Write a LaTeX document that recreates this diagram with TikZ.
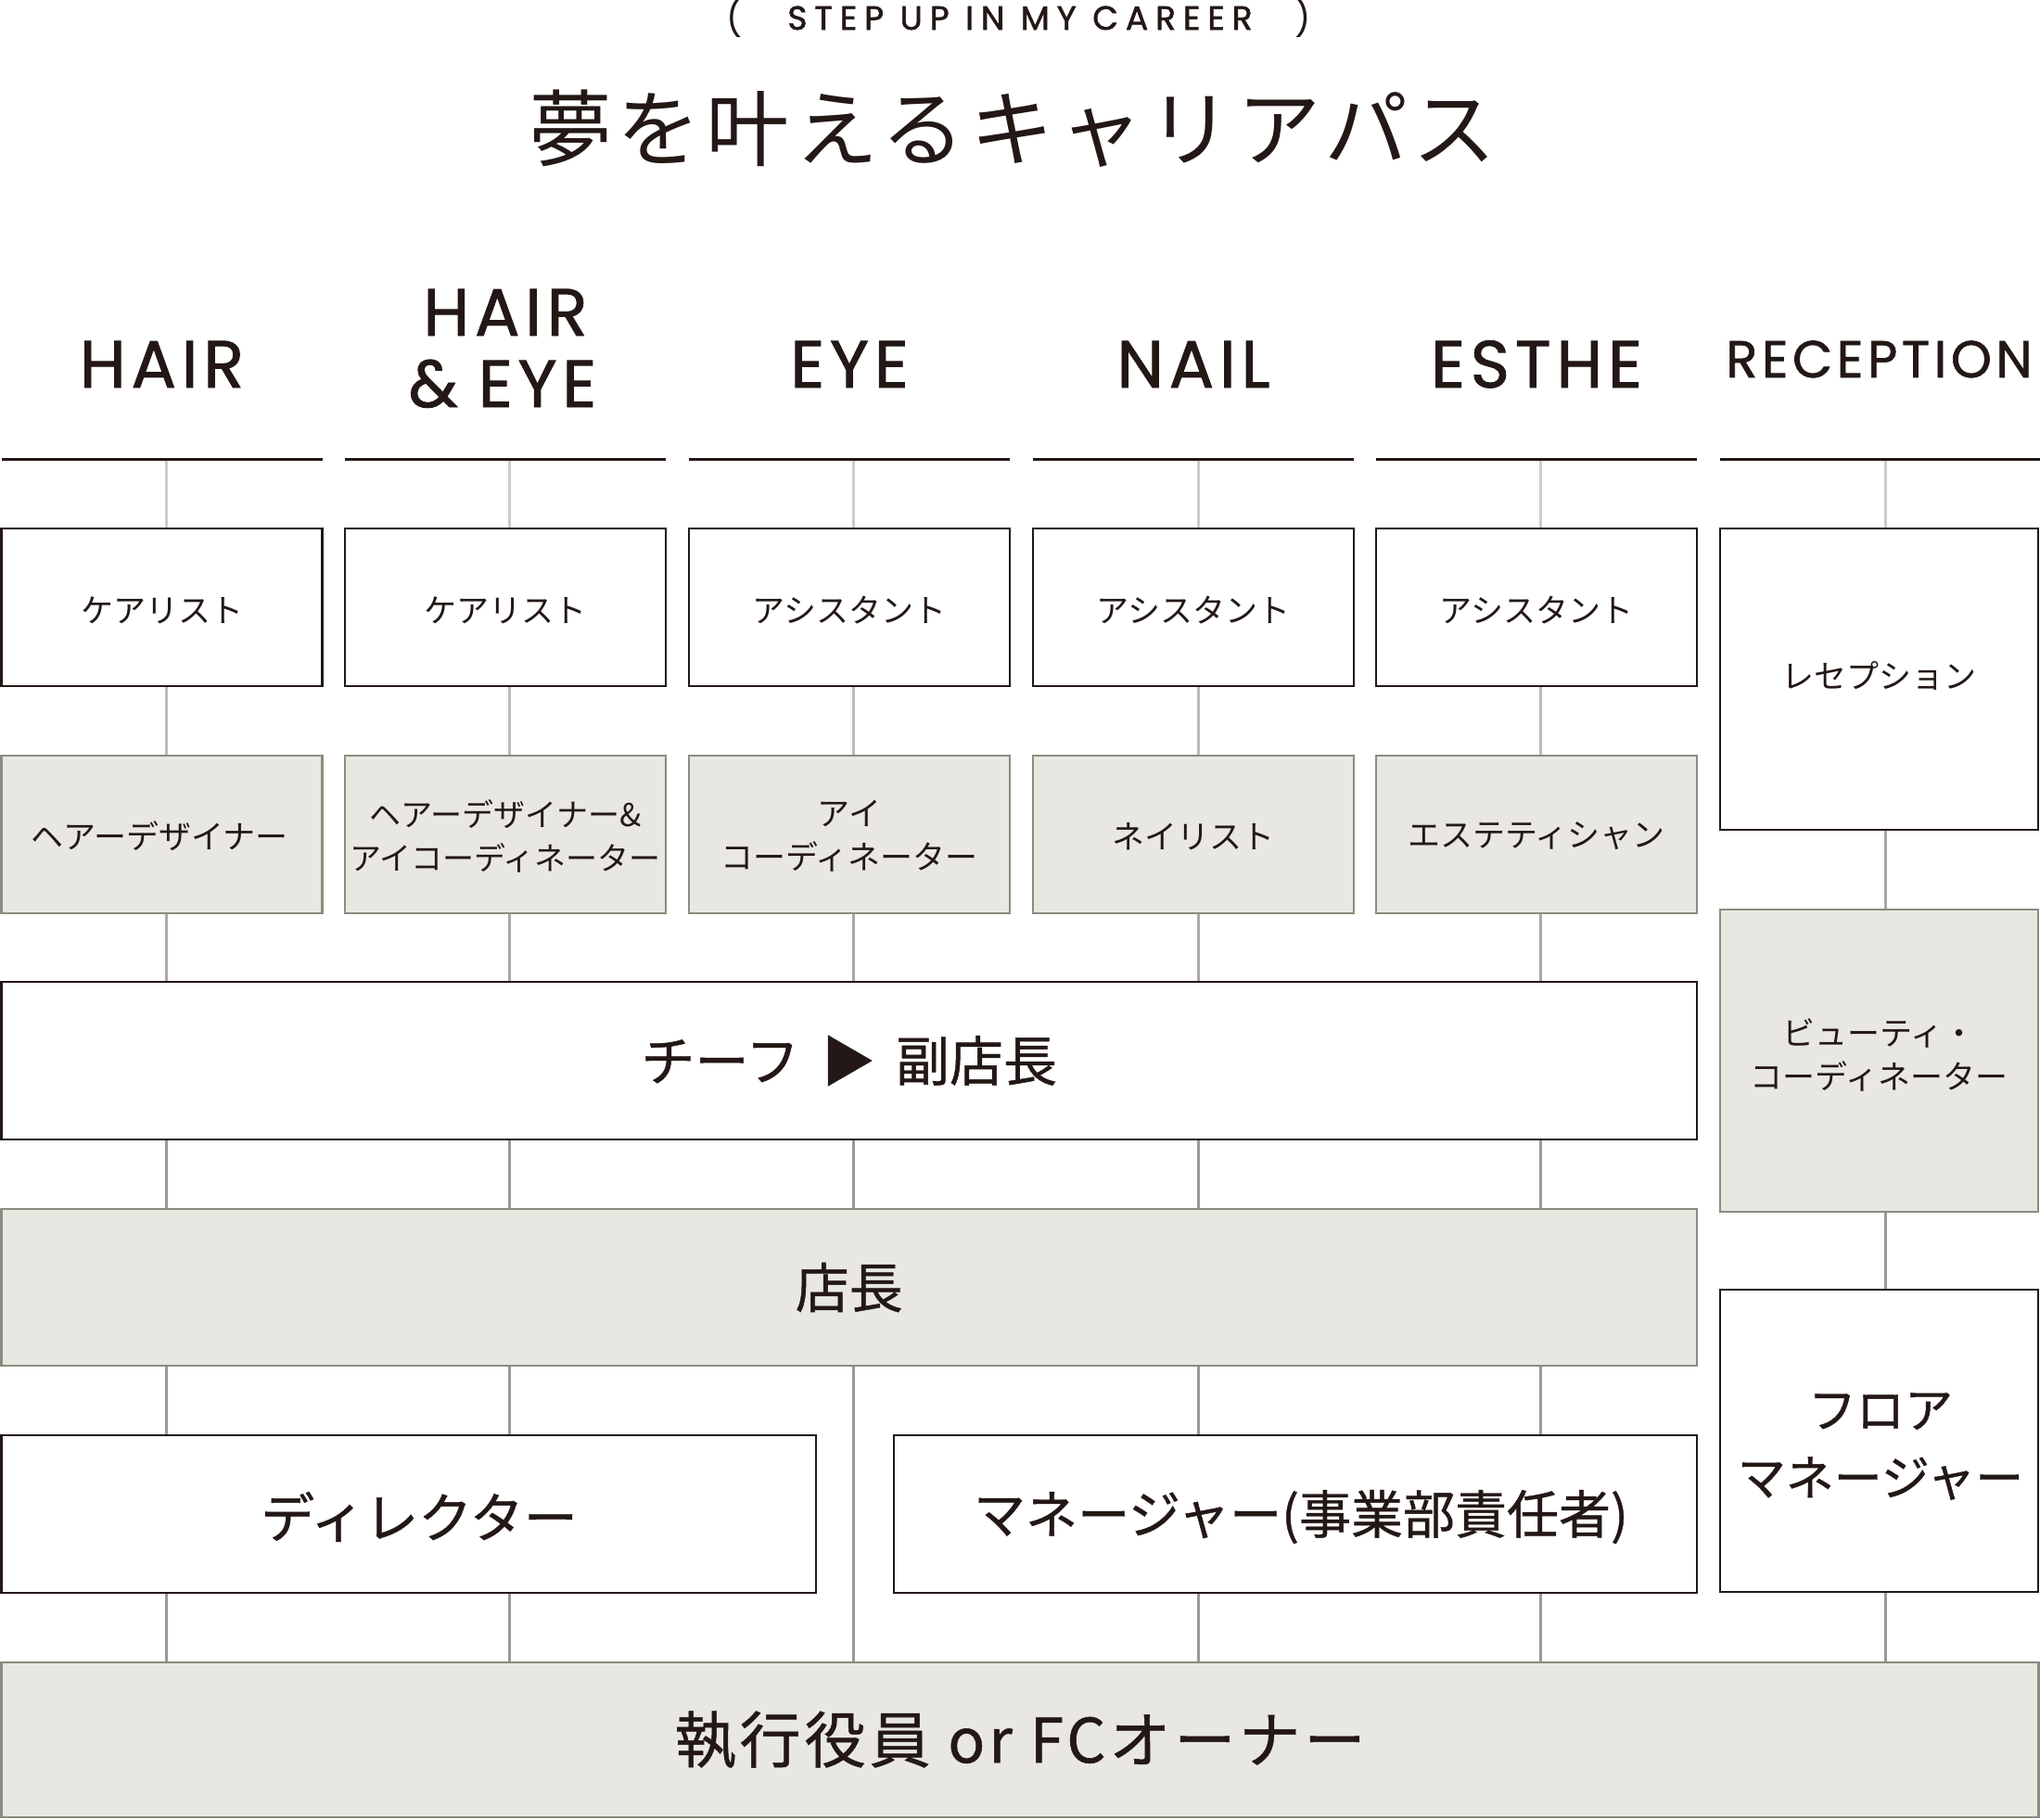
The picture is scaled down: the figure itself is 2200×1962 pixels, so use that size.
\documentclass[tikz,border=0pt]{standalone}
\usepackage{fontspec}
\setmainfont{Noto Sans CJK JP}
\newfontfamily\jp{Noto Sans CJK JP}
\newfontfamily\jpbig[FakeBold=0.8]{Noto Sans CJK JP}
\newfontfamily\jptitle[LetterSpace=6.5]{Noto Sans CJK JP}
\newfontfamily\jpwide[LetterSpace=6,FakeBold=0.8]{Noto Sans CJK JP}
\newfontfamily\hdfont[LetterSpace=8,FakeBold=1.2]{Poppins}
\newfontfamily\stepfont[LetterSpace=22,FakeBold=1.6]{Poppins}
\newfontfamily\parenfont{Poppins}
\definecolor{ink}{HTML}{231815}
\definecolor{boxfill}{HTML}{E8E7E2}
\definecolor{boxline}{HTML}{8C8C7E}
\definecolor{segA}{HTML}{CDCDC6}
\definecolor{segB}{HTML}{BDBDB6}
\definecolor{segC}{HTML}{A9A9A6}
\definecolor{segD}{HTML}{999999}
\tikzset{
 box/.style={inner sep=0, align=center, text=ink, font=\jp\fontsize{35}{47}\selectfont},
 wbox/.style={box, draw=ink, fill=white, line width=2.6},
 gbox/.style={box, draw=boxline, fill=boxfill, line width=2.6},
 big/.style={font=\jpbig\fontsize{58}{73}\selectfont},
 hdr/.style={font=\hdfont\fontsize{72}{80}\selectfont, text=ink, anchor=base, inner sep=0},
 hline/.style={draw=ink, line width=3},
 conn/.style={line width=3},
 txt/.style={inner sep=0, text=ink, align=center},
}
\begin{document}
\begin{tikzpicture}[x=1pt,y=-1pt]
\useasboundingbox (0,0) rectangle (2200,1962);
% titles
\node[txt, anchor=base, font=\stepfont\fontsize{36}{40}\selectfont] (step) at (1100,32) {STEP UP IN MY CAREER};
\node[txt, anchor=base, font=\parenfont\fontsize{38}{40}\selectfont] (pl) at (792,33) {(};
\node[txt, anchor=base, font=\parenfont\fontsize{38}{40}\selectfont] (pr) at (1405,33) {)};
\node[txt, font=\jptitle\fontsize{90}{100}\selectfont] (title) at (1092,139) {夢を叶えるキャリアパス};
% headers
\node[hdr] (hA) at (174.5,418) {HAIR};
\node[hdr] (hB1) at (545,362) {HAIR};
\node[hdr] (hB2) at (542,439) {\&\hspace{22pt}EYE};
\node[hdr] (hC) at (916,418) {EYE};
\node[hdr] (hD) at (1287,418) {NAIL};
\node[hdr] (hE) at (1657,418) {ESTHE};
\node[hdr, font=\hdfont\fontsize{56}{60}\selectfont] (hF) at (2026.5,407) {RECEPTION};
\draw[hline] (1.5,495) -- (347.5,495);
\draw[hline] (372,495) -- (718,495);
\draw[hline] (743,495) -- (1089,495);
\draw[hline] (1114,495) -- (1460,495);
\draw[hline] (1484,495) -- (1830,495);
\draw[hline] (1855,495) -- (2200,495);
\coordinate (v1) at (179,496.5);
\coordinate (v2) at (549,496.5);
\coordinate (v3) at (920,496.5);
\coordinate (v4) at (1292,496.5);
\coordinate (v5) at (1661,496.5);
\coordinate (v6) at (2033,496.5);
% row 1
\node[wbox, minimum width=346, minimum height=170] (r1a) at (174.5,655) {};
\node[wbox, minimum width=346, minimum height=170] (r1b) at (545,655) {};
\node[wbox, minimum width=346, minimum height=170] (r1c) at (916,655) {};
\node[wbox, minimum width=346, minimum height=170] (r1d) at (1287,655) {};
\node[wbox, minimum width=346, minimum height=170] (r1e) at (1657,655) {};
\node[wbox, minimum width=343, minimum height=325] (r1f) at (2026.5,732.5) {};
\node[box] (t1a) at (174.5,658) {ケアリスト};
\node[box] (t1b) at (545,658) {ケアリスト};
\node[box] (t1c) at (916,658) {アシスタント};
\node[box] (t1d) at (1287,658) {アシスタント};
\node[box] (t1e) at (1657,658) {アシスタント};
\node[box] (t1f) at (2026.5,729) {レセプション};
% row 2
\node[gbox, minimum width=346, minimum height=170] (r2a) at (174.5,900) {};
\node[gbox, minimum width=346, minimum height=170] (r2b) at (545,900) {};
\node[gbox, minimum width=346, minimum height=170] (r2c) at (916,900) {};
\node[gbox, minimum width=346, minimum height=170] (r2d) at (1287,900) {};
\node[gbox, minimum width=346, minimum height=170] (r2e) at (1657,900) {};
\node[gbox, minimum width=343, minimum height=326] (r2f) at (2026.5,1144) {};
\node[box] (t2a) at (172,902) {ヘアーデザイナー};
\node[box, font=\jp\fontsize{34}{47}\selectfont] (t2b) at (545,902) {ヘアーデザイナー\&\\アイコーディネーター};
\node[box] (t2c) at (916,902) {アイ\\コーディネーター};
\node[box] (t2d) at (1287,902) {ネイリスト};
\node[box] (t2e) at (1657,902) {エステティシャン};
\node[box] (t2f) at (2026.5,1138) {ビューティ・\\コーディネーター};
% wide rows
\node[wbox, minimum width=1828.5, minimum height=170] (chief) at (915.75,1144) {};
\node[box, big] (tchief) at (915.75,1144) {チーフ\hspace{24pt}▶\hspace{22pt}副店長};
\node[gbox, big, minimum width=1828.5, minimum height=169] (tencho) at (915.75,1388.5) {店長};
\node[wbox, minimum width=343, minimum height=326] (floor) at (2026.5,1554) {};
\node[box, font=\jpbig\fontsize{52}{73}\selectfont] (tfloor) at (2028,1560) {フロア\\マネージャー};
\node[wbox, minimum width=878.5, minimum height=170] (dir) at (440.75,1633) {};
\node[box, big] (tdir) at (452,1636) {ディレクター};
\node[wbox, minimum width=866, minimum height=170] (mgr) at (1397,1633) {};
\node[box, font=\jpbig\fontsize{56}{73}\selectfont] (tmgr) at (1403,1636) {マネージャー(事業部責任者)};
\node[gbox, font=\jpwide\fontsize{66}{70}\selectfont, minimum width=2197, minimum height=167] (exec) at (1100,1876.5) {執行役員 or FCオーナー};
% connectors
\foreach \v/\a/\b in {v1/r1a/r2a, v2/r1b/r2b, v3/r1c/r2c, v4/r1d/r2d, v5/r1e/r2e}{
  \draw[conn, segA] (\v) -- (\v |- \a.north);
  \draw[conn, segB] (\v |- \a.south) -- (\v |- \b.north);
  \draw[conn, segC] (\v |- \b.south) -- (\v |- chief.north);
  \draw[conn, segD] (\v |- chief.south) -- (\v |- tencho.north);
}
\foreach \v/\c in {v1/dir, v2/dir, v4/mgr, v5/mgr}{
  \draw[conn, segD] (\v |- tencho.south) -- (\v |- \c.north);
  \draw[conn, segD] (\v |- \c.south) -- (\v |- exec.north);
}
\draw[conn, segD] (v3 |- tencho.south) -- (v3 |- exec.north);
\draw[conn, segA] (v6) -- (v6 |- r1f.north);
\draw[conn, segC] (v6 |- r1f.south) -- (v6 |- r2f.north);
\draw[conn, segD] (v6 |- r2f.south) -- (v6 |- floor.north);
\draw[conn, segD] (v6 |- floor.south) -- (v6 |- exec.north);
\end{tikzpicture}
\end{document}
